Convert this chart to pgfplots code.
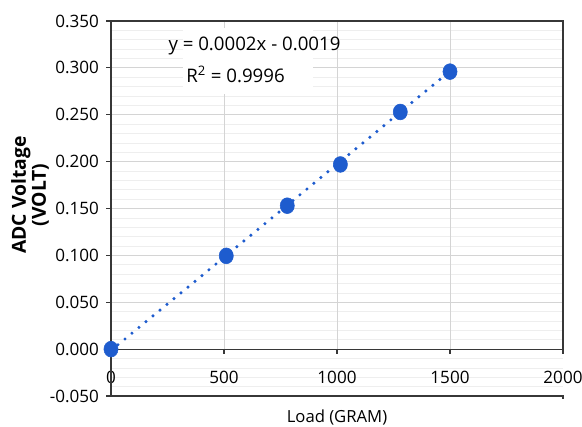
\documentclass[border=0pt]{standalone}
\usepackage{fontspec}
\setmainfont{Open Sans}
\usepackage{pgfplots}
\pgfplotsset{compat=1.18}
\definecolor{ptblue}{RGB}{30,92,206}
\definecolor{gridc}{RGB}{212,212,212}
\definecolor{minorc}{RGB}{238,238,238}
\definecolor{framec}{RGB}{55,55,55}

\begin{document}
\begin{tikzpicture}
\useasboundingbox (-83.25pt,-22.5pt) rectangle (353.25pt,297pt);
\begin{axis}[
  scale only axis, width=339pt, height=281.25pt,
  xmin=0, xmax=2000, ymin=-0.05, ymax=0.35,
  clip=false,
  xtick={0,500,1000,1500,2000},
  ytick={-0.05,0,0.05,0.1,0.15,0.2,0.25,0.3,0.35},
  minor y tick num=4,
  ymajorgrids, yminorgrids,
  major grid style={gridc,line width=0.6pt},
  minor grid style={minorc,line width=0.5pt},
  axis line style={draw=none},
  tick style={framec,line width=0.8pt},
  minor tick length=0pt,
  major tick length=3.5pt,
  tick align=outside,
  ytick pos=left, xtick pos=bottom,
  every x tick/.style={draw=none},
  scaled y ticks=false,
  tick label style={font=\fontsize{12.8}{14}\selectfont},
  /pgf/number format/assume math mode=true,
  /pgf/number format/1000 sep={},
  yticklabel style={/pgf/number format/fixed,/pgf/number format/fixed zerofill,
    /pgf/number format/precision=3, xshift=-2pt},
  xticklabel style={yshift=25.5pt},
  xlabel={Load (GRAM)},
  xlabel style={at={(axis description cs:0.5,0)},anchor=north,yshift=-7pt,
    font=\fontsize{12.5}{14}\selectfont},
  ylabel={ADC Voltage\\(VOLT)},
  ylabel style={at={(axis description cs:-0.179,0.536)},anchor=center,align=center,
    font=\fontsize{14.5}{12.5}\selectfont\bfseries},
]
% vertical gridlines stop at the zero line
\draw[gridc,line width=0.6pt] (axis cs:500,0) -- (axis cs:500,0.35);
\draw[gridc,line width=0.6pt] (axis cs:1000,0) -- (axis cs:1000,0.35);
\draw[gridc,line width=0.6pt] (axis cs:1500,0) -- (axis cs:1500,0.35);
% frame
\draw[framec,line width=0.8pt] (axis cs:0,-0.05) -- (axis cs:0,0.35)
  -- (axis cs:2000,0.35) -- (axis cs:2000,0);
\draw[framec,line width=0.8pt] (axis cs:0,-0.05) -- (axis cs:2000,-0.05)
  -- (axis cs:2000,-0.0535);
% zero line with its ticks
\draw[framec,line width=0.8pt] (axis cs:0,0) -- (axis cs:2000,0);
\draw[framec,line width=0.8pt] (axis cs:0,0) -- (axis cs:0,-0.005);
\draw[framec,line width=0.8pt] (axis cs:500,0) -- (axis cs:500,-0.005);
\draw[framec,line width=0.8pt] (axis cs:1000,0) -- (axis cs:1000,-0.005);
\draw[framec,line width=0.8pt] (axis cs:1500,0) -- (axis cs:1500,-0.005);
\draw[framec,line width=0.8pt] (axis cs:2000,0) -- (axis cs:2000,-0.005);

% label box of the trendline equation
\fill[white] (axis cs:318,0.2723) rectangle (axis cs:894,0.3426);

% linear trendline
\addplot[ptblue, line width=2.6pt, dash pattern=on 0pt off 6.8pt, line cap=round]
  coordinates {(0,-0.0015) (1500,0.2965)};
% measured points
\addplot[only marks, mark=*, mark size=5.3pt, ptblue,
  mark options={yscale=1.12}]
  coordinates {(0,0.000) (510,0.0995) (780,0.153) (1015,0.197) (1280,0.253) (1500,0.296)};

\node[font=\fontsize{14}{21}\selectfont] at (axis cs:635,0.3229)
  {y = 0.0002x - 0.0019};
\node[font=\fontsize{14}{21}\selectfont] at (axis cs:551,0.2931)
  {R\textsuperscript{2} = 0.9996};
\end{axis}
\end{tikzpicture}
\end{document}
